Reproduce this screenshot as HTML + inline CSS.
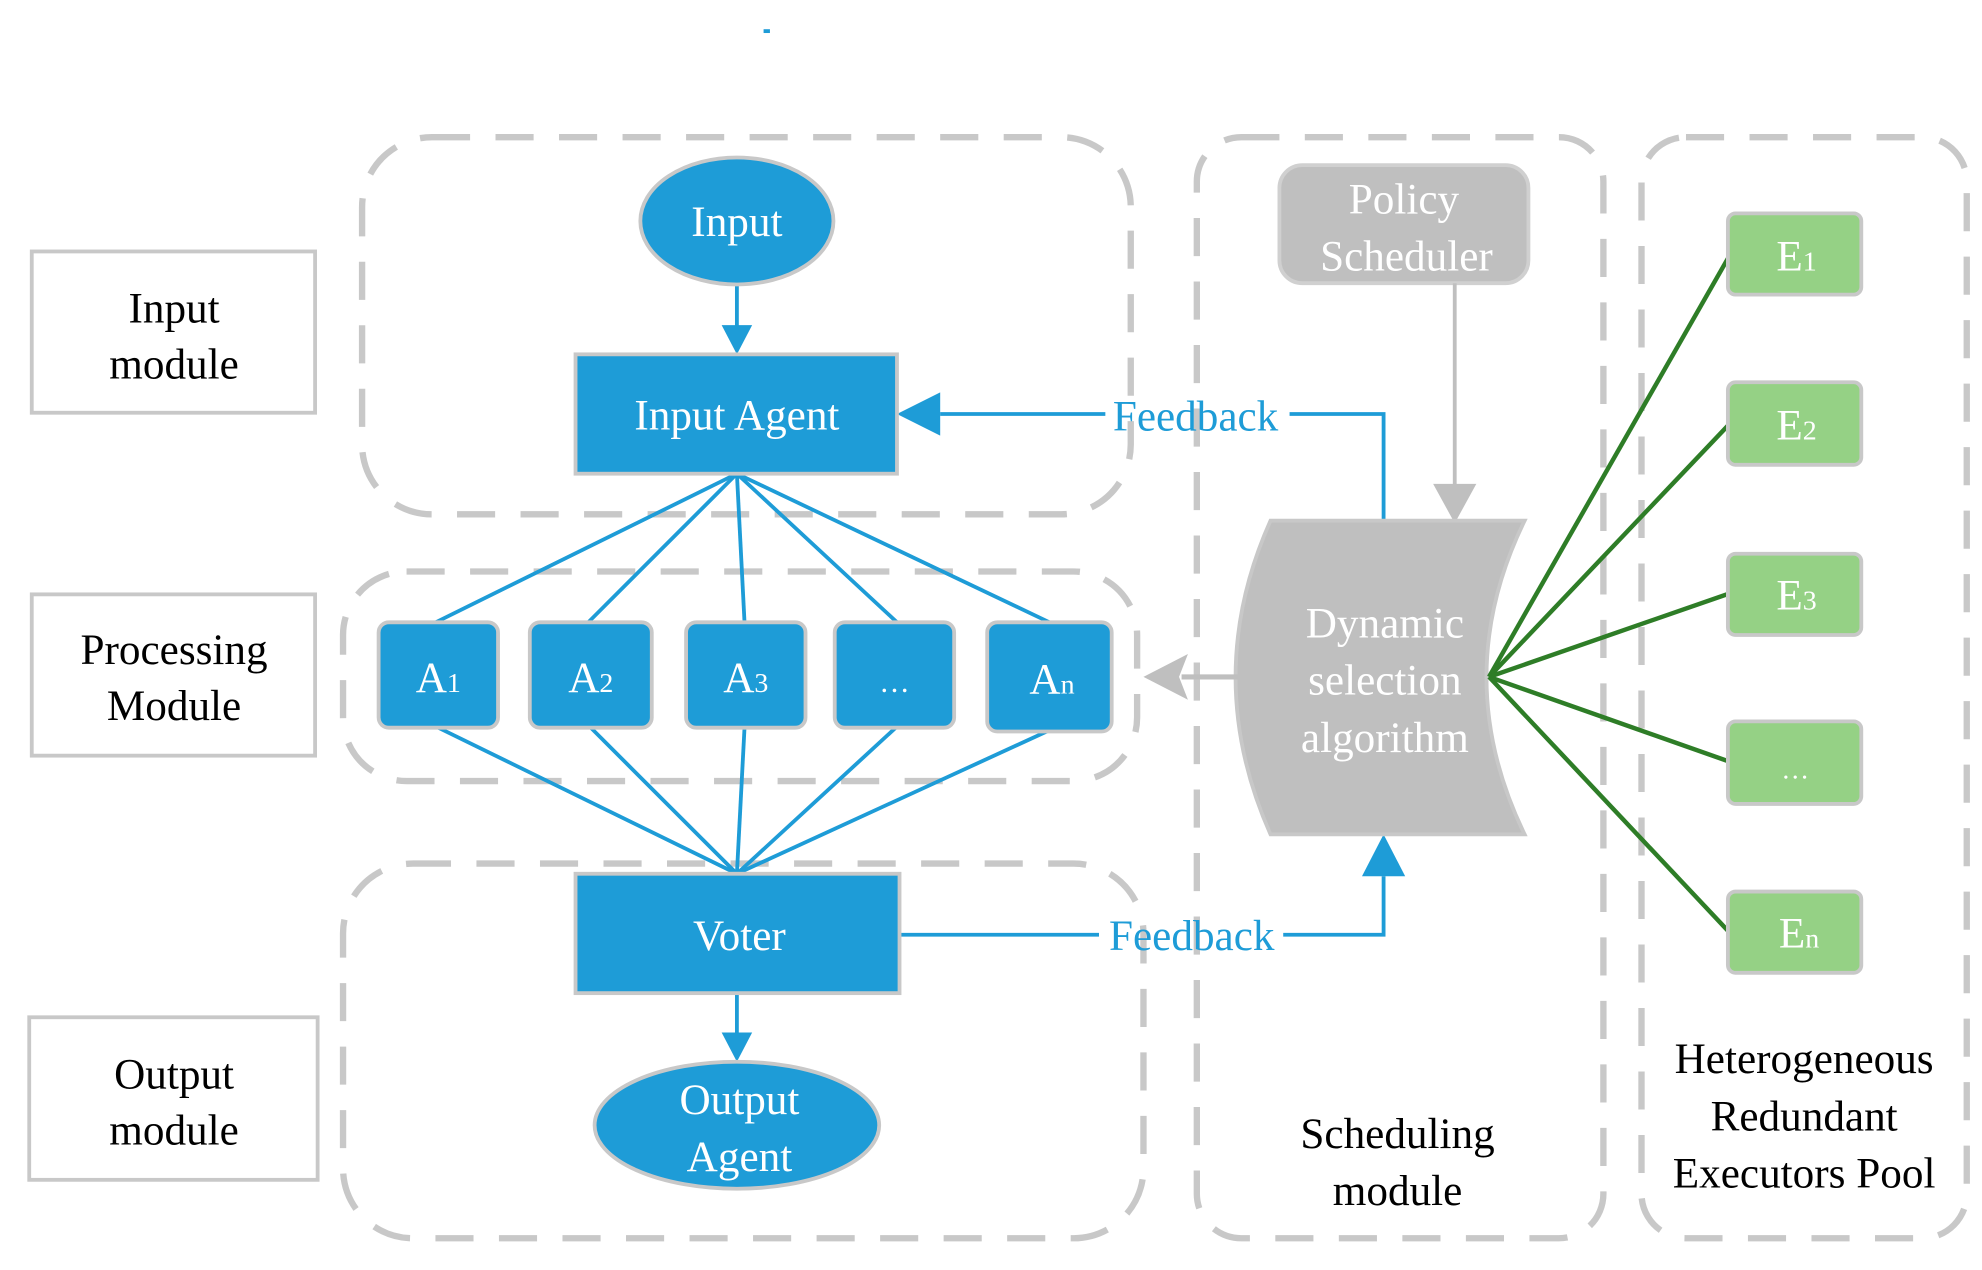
<!DOCTYPE html>
<html><head><meta charset="utf-8"><style>html,body{margin:0;padding:0;background:#fff}svg{display:block}</style></head>
<body>
<svg width="1982" height="1270" viewBox="0 0 1560 1000" preserveAspectRatio="none" xmlns="http://www.w3.org/2000/svg" font-family="'Liberation Serif', serif" font-size="34">
<rect width="1560" height="1000" fill="#fff"/>
<rect x="601" y="23" width="5" height="3" fill="#1e9cd7"/>
<!-- left label boxes -->
<g fill="none" stroke="#c8c8c8" stroke-width="3">
<rect x="25" y="198" width="223" height="127"/>
<rect x="25" y="468" width="223" height="127"/>
<rect x="23" y="801" width="227" height="128"/>
</g>
<g fill="#000" text-anchor="middle">
<text x="137" y="254">Input</text><text x="137" y="298">module</text>
<text x="137" y="523">Processing</text><text x="137" y="567">Module</text>
<text x="137" y="857">Output</text><text x="137" y="901">module</text>
<text x="1100" y="904">Scheduling</text><text x="1100" y="949">module</text>
<text x="1420" y="845">Heterogeneous</text><text x="1420" y="890">Redundant</text><text x="1420" y="935">Executors Pool</text>
</g>
<!-- dashed containers -->
<g fill="none" stroke="#c8c8c8" stroke-width="5" stroke-dasharray="30,20">
<rect x="285" y="108" width="605" height="297" rx="55"/>
<rect x="270" y="450" width="625" height="165" rx="50"/>
<rect x="270" y="680" width="630" height="295" rx="55"/>
<rect x="942" y="108" width="320" height="867" rx="35"/>
<rect x="1292" y="108" width="256" height="867" rx="35"/>
</g>
<!-- fan lines -->
<g stroke="#1e9cd7" stroke-width="3" fill="none">
<line x1="580" y1="373" x2="343" y2="490"/><line x1="580" y1="373" x2="463" y2="490"/><line x1="580" y1="373" x2="586" y2="490"/><line x1="580" y1="373" x2="706" y2="490"/><line x1="580" y1="373" x2="826" y2="490"/>
<line x1="580" y1="688" x2="345" y2="573"/><line x1="580" y1="688" x2="465" y2="573"/><line x1="580" y1="688" x2="586" y2="573"/><line x1="580" y1="688" x2="705" y2="573"/><line x1="580" y1="688" x2="826" y2="575"/>
<line x1="580" y1="224" x2="580" y2="258"/><line x1="580" y1="782" x2="580" y2="815"/>
<polyline points="1089,412 1089,326 1015,326"/><line x1="870" y1="326" x2="740" y2="326"/>
<line x1="708" y1="736" x2="865" y2="736"/><polyline points="1010,736 1089,736 1089,690"/>
</g>
<g fill="#1e9cd7">
<polygon points="568,256 592,256 580,279"/><polygon points="568,813 592,813 580,836"/>
<polygon points="706,326 740,309 740,343"/><polygon points="1089,657 1072,690 1106,690"/>
</g>
<!-- blue nodes -->
<g fill="#1e9cd7" stroke="#c8c8c8" stroke-width="3">
<ellipse cx="580" cy="174" rx="76" ry="50"/>
<rect x="453" y="279" width="253" height="94"/>
<rect x="298" y="490" width="94" height="83" rx="8"/>
<rect x="417" y="490" width="96" height="83" rx="8"/>
<rect x="540" y="490" width="94" height="83" rx="8"/>
<rect x="657" y="490" width="94" height="83" rx="8"/>
<rect x="777" y="490" width="98" height="86" rx="8"/>
<rect x="453" y="688" width="255" height="94"/>
<ellipse cx="580" cy="886" rx="112" ry="50"/>
</g>
<g fill="#fff" text-anchor="middle">
<text x="580" y="186">Input</text>
<text x="580" y="338">Input Agent</text>
<text x="345" y="545">A<tspan font-size="22">1</tspan></text>
<text x="465" y="545">A<tspan font-size="22">2</tspan></text>
<text x="587" y="545">A<tspan font-size="22">3</tspan></text>
<text x="704" y="545" font-size="24">…</text>
<text x="828" y="546">A<tspan font-size="22">n</tspan></text>
<text x="582" y="748">Voter</text>
<text x="582" y="877">Output</text><text x="582" y="922">Agent</text>
</g>
<g fill="#1e9cd7" text-anchor="middle">
<text x="941" y="339">Feedback</text>
<text x="938" y="748">Feedback</text>
</g>
<!-- scheduling -->
<rect x="1007" y="130" width="196" height="93" rx="18" fill="#bfbfbf" stroke="#d0d0d0" stroke-width="3"/>
<g fill="#fff" text-anchor="middle"><text x="1105" y="168">Policy</text><text x="1107" y="213">Scheduler</text></g>
<line x1="1145" y1="223" x2="1145" y2="385" stroke="#bfbfbf" stroke-width="3"/>
<polygon points="1128,381 1162,381 1145,412" fill="#bfbfbf"/>
<path d="M1000,410 L1200,410 Q1140,533 1200,657 L1000,657 Q945,533 1000,410 Z" fill="#bfbfbf" stroke="#c8c8c8" stroke-width="3"/>
<g fill="#fff" text-anchor="middle"><text x="1090" y="502">Dynamic</text><text x="1090" y="547">selection</text><text x="1090" y="592">algorithm</text></g>
<line x1="975" y1="533" x2="930" y2="533" stroke="#bfbfbf" stroke-width="4"/>
<polygon points="900,533 935,515 928,533 935,551" fill="#bfbfbf"/>
<!-- green -->
<g stroke="#2e7d27" stroke-width="3.5">
<line x1="1172" y1="533" x2="1362" y2="200"/><line x1="1172" y1="533" x2="1362" y2="333"/><line x1="1172" y1="533" x2="1362" y2="467"/><line x1="1172" y1="533" x2="1362" y2="600"/><line x1="1172" y1="533" x2="1362" y2="735"/>
</g>
<g fill="#95d185" stroke="#c8c8c8" stroke-width="3">
<rect x="1360" y="168" width="105" height="64" rx="6"/>
<rect x="1360" y="301" width="105" height="65" rx="6"/>
<rect x="1360" y="436" width="105" height="64" rx="6"/>
<rect x="1360" y="568" width="105" height="65" rx="6"/>
<rect x="1360" y="702" width="105" height="64" rx="6"/>
</g>
<g fill="#fff" text-anchor="middle">
<text x="1414" y="213">E<tspan font-size="22">1</tspan></text>
<text x="1414" y="346">E<tspan font-size="22">2</tspan></text>
<text x="1414" y="480">E<tspan font-size="22">3</tspan></text>
<text x="1413" y="613" font-size="22">…</text>
<text x="1416" y="746">E<tspan font-size="22">n</tspan></text>
</g>
</svg>
</body></html>
